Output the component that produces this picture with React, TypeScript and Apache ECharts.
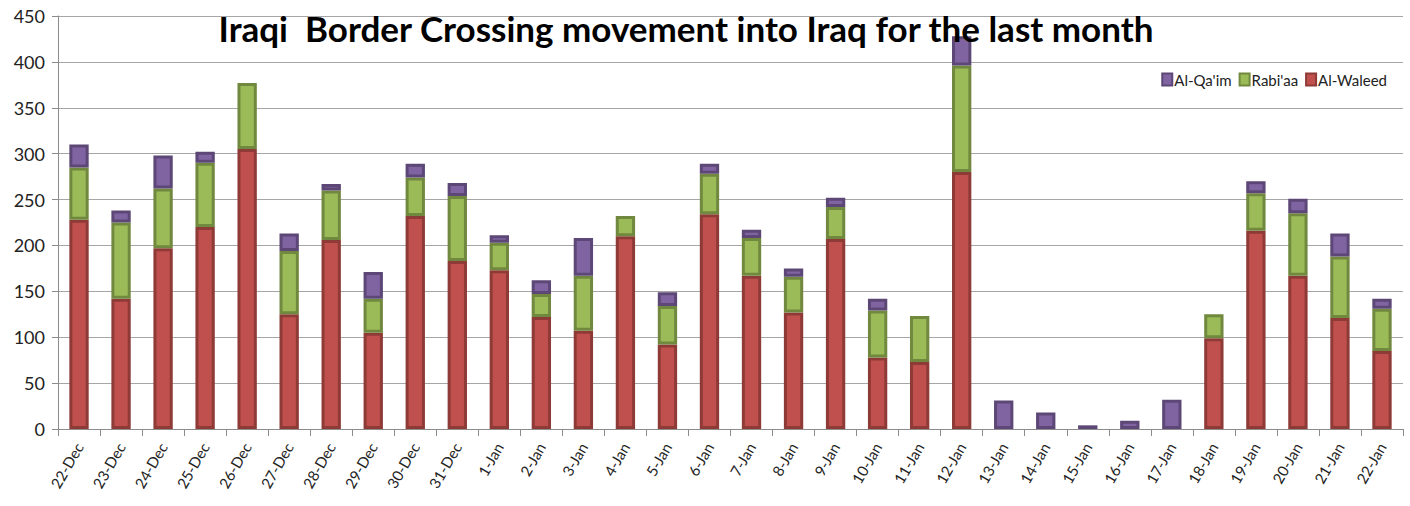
import React, { useEffect, useRef } from "react";
import * as echarts from "echarts";

const categories = [
  "22-Dec", "23-Dec", "24-Dec", "25-Dec", "26-Dec", "27-Dec", "28-Dec", "29-Dec", "30-Dec", "31-Dec",
  "1-Jan", "2-Jan", "3-Jan", "4-Jan", "5-Jan", "6-Jan", "7-Jan", "8-Jan", "9-Jan", "10-Jan",
  "11-Jan", "12-Jan", "13-Jan", "14-Jan", "15-Jan", "16-Jan", "17-Jan", "18-Jan", "19-Jan", "20-Jan",
  "21-Jan", "22-Jan",
];

const alWaleed = [
  228, 142, 197, 220, 305, 125, 206, 105, 232, 183,
  173, 122, 107, 210, 92, 234, 167, 127, 207, 78,
  73, 280, 0, 0, 0, 0, 0, 99, 216, 167,
  121, 85,
];

const rabiaa = [
  57, 83, 65, 70, 72, 69, 54, 37, 42, 71,
  30, 25, 60, 22, 42, 44, 41, 39, 35, 51,
  50, 116, 0, 0, 0, 0, 0, 26, 41, 68,
  67, 46,
];

const alQaim = [
  25, 13, 36, 12, 0, 19, 7, 29, 15, 14,
  8, 15, 41, 0, 15, 11, 9, 9, 10, 13,
  0, 32, 31, 18, 4, 9, 32, 0, 13, 16,
  25, 11,
];

const yTicks = { min: 0, max: 450, interval: 50 };

const FONT = "Lato, 'Open Sans', sans-serif";

function mk(name: string, data: number[], fill: string, border: string) {
  return {
    name,
    type: "bar",
    stack: "total",
    barWidth: "46%",
    data: data.map((v) => (v === 0 ? null : v)),
    itemStyle: { color: fill, borderColor: border, borderWidth: 3 },
  };
}

export default function App() {
  const ref = useRef<HTMLDivElement>(null);
  useEffect(() => {
    if (!ref.current) return;
    const chart = echarts.init(ref.current, undefined, { renderer: "svg" });
    chart.setOption({
      animation: false,
      backgroundColor: "#ffffff",
      title: {
        text: "Iraqi  Border Crossing movement into Iraq for the last month",
        left: 681,
        textAlign: "center",
        top: 5,
        textStyle: { fontFamily: FONT, fontWeight: "bold", fontSize: 35, color: "#000" },
      },
      legend: {
        data: ["Al-Qa'im", "Rabi'aa", "Al-Waleed"],
        right: 18,
        top: 67,
        icon: "rect",
        itemWidth: 10,
        itemHeight: 12,
        itemGap: 7,
        textStyle: { fontFamily: FONT, fontSize: 15, color: "#222", padding: [0, 0, 0, -3] },
      },
      grid: { left: 58, right: 7, top: 16, bottom: 77, containLabel: false },
      xAxis: {
        type: "category",
        data: categories,
        axisLine: { lineStyle: { color: "#8c8c8c", width: 1 } },
        axisTick: { show: true, length: 7, lineStyle: { color: "#8c8c8c" } },
        axisLabel: {
          rotate: 60,
          fontFamily: FONT,
          fontSize: 15,
          color: "#222",
          margin: 15,
          interval: 0,
        },
      },
      yAxis: {
        type: "value",
        min: yTicks.min,
        max: yTicks.max,
        interval: yTicks.interval,
        axisLine: { show: true, lineStyle: { color: "#8c8c8c" } },
        axisTick: { show: true, length: 6, lineStyle: { color: "#8c8c8c" } },
        splitLine: { lineStyle: { color: "#a6a6a6", width: 1 } },
        axisLabel: { fontFamily: FONT, fontSize: 18, color: "#222", margin: 13 },
      },
      series: [
        mk("Al-Waleed", alWaleed, "#C0504D", "#8E3A37"),
        mk("Rabi'aa", rabiaa, "#9BBB59", "#71893F"),
        mk("Al-Qa'im", alQaim, "#8064A2", "#5C4776"),
      ],
    });
    return () => chart.dispose();
  }, []);
  return <div ref={ref} style={{ width: 1410, height: 506, position: "absolute", left: 0, top: 0 }} />;
}
